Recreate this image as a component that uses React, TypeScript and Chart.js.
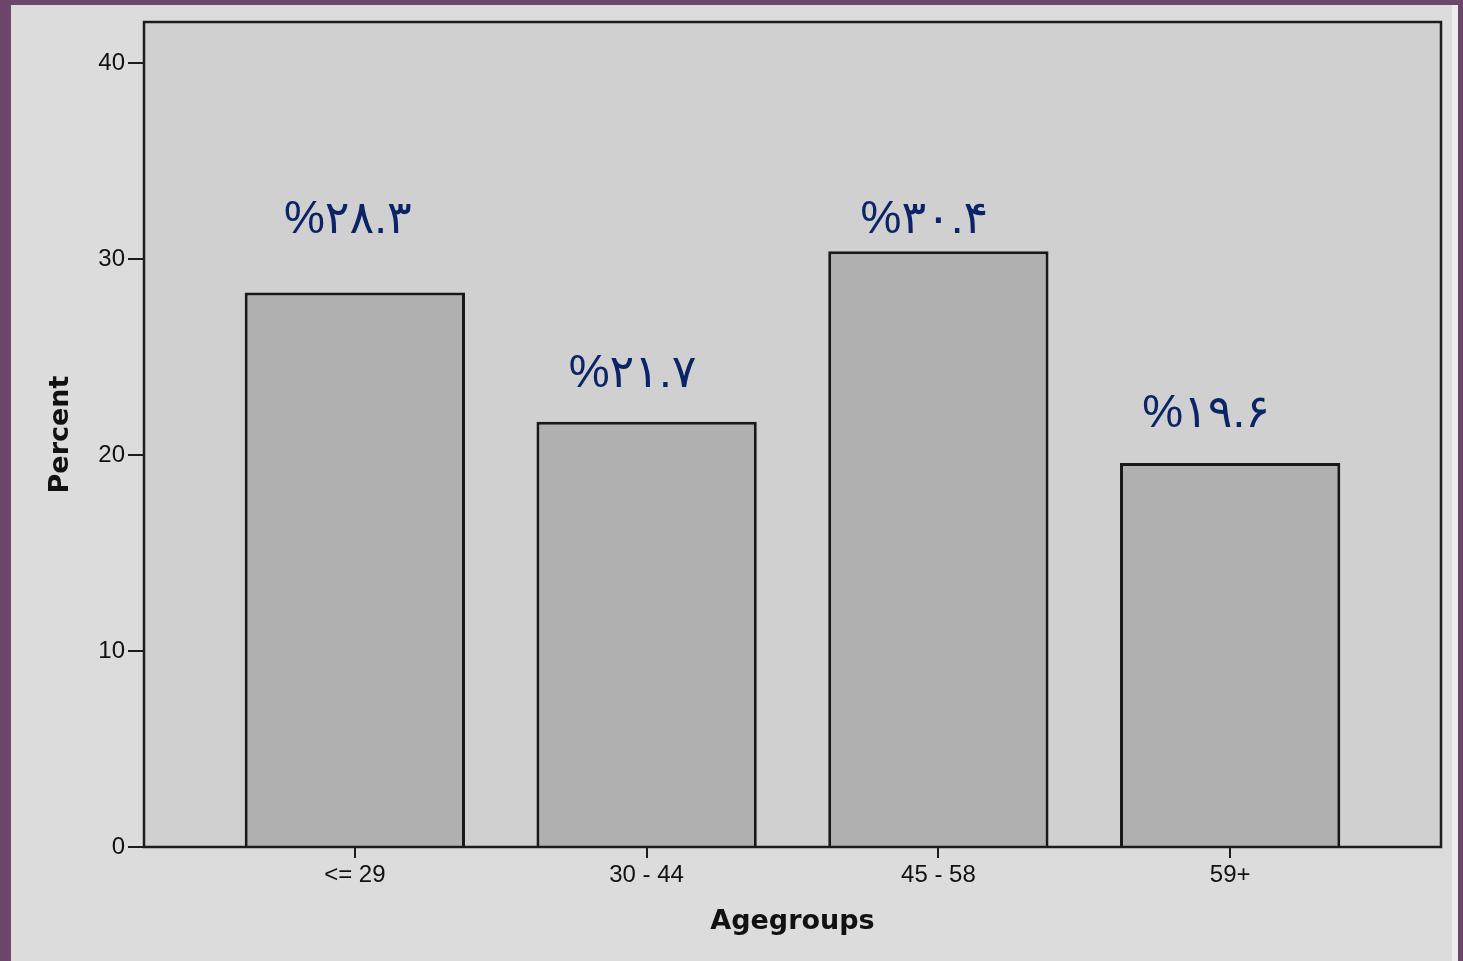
import React, { useEffect, useRef } from "react";
import { Chart, registerables } from "chart.js";

Chart.register(...registerables);

// Age groups and their share of respondents (percent)
const ageGroups = ["<= 29", "30 - 44", "45 - 58", "59+"];
const percents = [28.3, 21.7, 30.4, 19.6];
const yTickValues = [0, 10, 20, 30, 40];

// Hand-placed value labels: lift above bar top and horizontal nudge, in px
const labelLift = [59, 35, 18, 36];
const labelNudge = [-7, -14, -14, -24];

const PERSIAN_DIGITS = "۰۱۲۳۴۵۶۷۸۹";
const toPersian = (v: number) =>
  "%" + v.toFixed(1).replace(/[0-9]/g, (d) => PERSIAN_DIGITS[Number(d)]);

const W = 1463;
const H = 961;

const framePlugin = {
  id: "frame",
  beforeDraw(chart: any) {
    const { ctx, chartArea: a } = chart;
    ctx.save();
    // page backdrop
    ctx.fillStyle = "#6c476b";
    ctx.fillRect(0, 0, W, H);
    // light panel
    ctx.fillStyle = "#dcdcdc";
    ctx.fillRect(11, 5, 1441, H - 5);
    ctx.fillStyle = "#ececec";
    ctx.fillRect(1452, 5, 6, H - 5);
    // plot area
    ctx.fillStyle = "#d0d0d0";
    ctx.fillRect(a.left, a.top, a.right - a.left, a.bottom - a.top);
    ctx.restore();
  },
  afterDatasetsDraw(chart: any) {
    const { ctx, chartArea: a } = chart;
    ctx.save();
    ctx.strokeStyle = "#1c1c1c";
    ctx.lineWidth = 2.5;
    ctx.strokeRect(a.left, a.top, a.right - a.left, a.bottom - a.top);

    const meta = chart.getDatasetMeta(0);
    ctx.fillStyle = "#0b2467";
    ctx.font = '46px "Liberation Sans", "DejaVu Sans", sans-serif';
    ctx.textAlign = "center";
    ctx.textBaseline = "alphabetic";
    ctx.direction = "ltr";
    (ctx as any).letterSpacing = "3px";
    meta.data.forEach((bar: any, i: number) => {
      ctx.fillText(toPersian(percents[i]), bar.x + labelNudge[i], bar.y - labelLift[i]);
    });
    ctx.restore();
  },
};

export default function App() {
  const canvasRef = useRef<HTMLCanvasElement | null>(null);

  useEffect(() => {
    if (!canvasRef.current) return;
    const chart = new Chart(canvasRef.current, {
      type: "bar",
      data: {
        datasets: [
          {
            data: percents.map((v, i) => ({ x: i + 1, y: v })),
            backgroundColor: "#b0b0b0",
            borderColor: "#181818",
            borderWidth: 3,
            categoryPercentage: 1,
            barPercentage: 0.755,
          },
        ],
      },
      options: {
        responsive: false,
        animation: false,
        devicePixelRatio: 1,
        layout: { padding: { top: 22, right: 22, left: 0, bottom: 0 } },
        plugins: {
          legend: { display: false },
          tooltip: { enabled: false },
        },
        scales: {
          x: {
            type: "linear",
            offset: false,
            min: 1 - 211 / 292,
            max: 4 + 211 / 292,
            afterBuildTicks: (scale: any) => {
              scale.ticks = ageGroups.map((_, i) => ({ value: i + 1 }));
            },
            afterFit: (scale: any) => {
              scale.height = 114;
            },
            border: { display: false },
            grid: {
              offset: false,
              drawOnChartArea: false,
              drawTicks: true,
              tickLength: 11,
              color: "#1c1c1c",
              lineWidth: 2,
            },
            ticks: {
              autoSkip: false,
              maxRotation: 0,
              padding: 3,
              color: "#111",
              font: { family: '"Liberation Sans", Arial, sans-serif', size: 24 },
              callback: (v: any) => ageGroups[Math.round(Number(v)) - 1] ?? "",
            },
            title: {
              display: true,
              text: "Agegroups",
              color: "#111",
              font: { family: '"DejaVu Sans", sans-serif', size: 27, weight: "bold" },
              padding: { top: 0, bottom: 23 },
            },
          },
          y: {
            min: 0,
            max: 42.1,
            afterBuildTicks: (scale: any) => {
              scale.ticks = yTickValues.map((v) => ({ value: v }));
            },
            afterFit: (scale: any) => {
              scale.width = 144;
            },
            border: { display: false },
            grid: {
              drawOnChartArea: false,
              drawTicks: true,
              tickLength: 16,
              color: "#1c1c1c",
              lineWidth: 2,
            },
            ticks: {
              padding: 3,
              color: "#111",
              font: { family: '"Liberation Sans", Arial, sans-serif', size: 24 },
            },
            title: {
              display: true,
              text: "Percent",
              color: "#111",
              font: { family: '"DejaVu Sans", sans-serif', size: 27, weight: "bold" },
              padding: { top: 45, bottom: 0 },
            },
          },
        },
      },
      plugins: [framePlugin],
    });
    return () => chart.destroy();
  }, []);

  return (
    <div style={{ position: "fixed", left: 0, top: 0, width: W, height: H, background: "#6c476b" }}>
      <canvas ref={canvasRef} width={W} height={H} style={{ display: "block" }} />
    </div>
  );
}
